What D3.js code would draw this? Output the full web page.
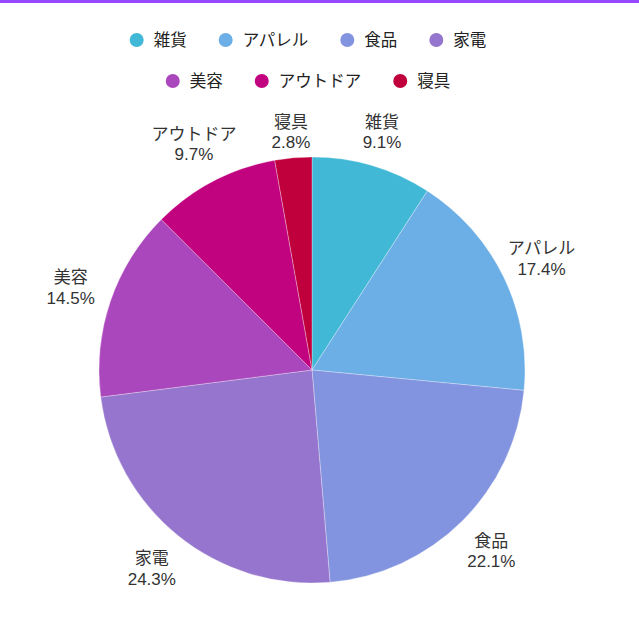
<!DOCTYPE html>
<html>
<head>
<meta charset="utf-8">
<script src="https://cdn.jsdelivr.net/npm/d3@7"></script>
<style>
  html, body { margin: 0; padding: 0; background: #fff; }
  body { font-family: "Noto Sans", "Noto Sans CJK JP", sans-serif; }
  .g-topbar { height: 3px; background: #9747ff; }
  .g-legend text { font-size: 16.5px; fill: #222; }
  .g-label { font-family: "Liberation Sans", "Noto Sans CJK JP", sans-serif; font-size: 17px; fill: #333; }
</style>
</head>
<body>
<div class="g-topbar"></div>
<div id="chart"></div>
<script>
let categories = ["雑貨", "アパレル", "食品", "家電", "美容", "アウトドア", "寝具"];
let values = [9.1, 17.4, 22.1, 24.3, 14.5, 9.7, 2.8];
let colors = ["#41b8d5", "#6caee6", "#8294e0", "#9575cd", "#ab47bc", "#c2037f", "#c0003c"];
let legendRows = [[0, 1, 2, 3], [4, 5, 6]];

let width = 639, height = 637;
let cx = 312, cy = 367, r = 213;
let labelR = 255, lineH = 20.5, minLabelY = 129;

let svg = d3.select("#chart").append("svg")
    .attr("width", width)
    .attr("height", height);

// legend
let color = d3.scaleOrdinal().domain(categories).range(colors);
let legend = svg.append("g").attr("class", "g-legend");

legendRows.forEach(function(row, ri){
    let rowg = legend.append("g");
    let x = 0;
    row.forEach(function(idx){
        let item = rowg.append("g").attr("transform", "translate(" + x + ",0)");
        item.append("circle")
            .attr("cx", 7)
            .attr("cy", 0)
            .attr("r", 7)
            .attr("fill", color(categories[idx]));
        let t = item.append("text")
            .attr("x", 24)
            .attr("dy", "0.35em")
            .text(categories[idx]);
        x += 24 + t.node().getComputedTextLength() + 32;
    });
    let rowW = x - 32;
    rowg.attr("transform", "translate(" + (308 - rowW / 2) + "," + (37 + ri * 41) + ")");
});

// pie
let pie = d3.pie().sort(null).value(d => d.value);
let arcs = pie(categories.map((c, i) => ({name: c, value: values[i]})));
let arc = d3.arc().innerRadius(0).outerRadius(r);

let g = svg.append("g").attr("transform", "translate(" + cx + "," + cy + ")");

g.selectAll("path.g-slice")
    .data(arcs)
    .enter().append("path")
    .attr("class", "g-slice")
    .attr("d", arc)
    .attr("fill", d => color(d.data.name))
    .attr("stroke", "#fff")
    .attr("stroke-opacity", 0.5)
    .attr("stroke-width", 0.6);

// labels on the slice's mid angle, pulled in so they stay below the legend
let lg = g.append("g");
arcs.forEach(function(d){
    let a = (d.startAngle + d.endAngle) / 2;
    let vx = Math.sin(a), vy = -Math.cos(a);
    let R = labelR;
    if (cy + R * vy < minLabelY) R = (cy - minLabelY) / -vy;
    let lab = lg.append("g")
        .attr("transform", "translate(" + (R * vx) + "," + (R * vy) + ")");
    lab.append("text").attr("class", "g-label")
        .attr("text-anchor", "middle")
        .attr("y", -lineH / 2)
        .attr("dy", "0.35em")
        .text(d.data.name);
    lab.append("text").attr("class", "g-label")
        .attr("text-anchor", "middle")
        .attr("y", lineH / 2)
        .attr("dy", "0.35em")
        .text(d.data.value.toFixed(1) + "%");
});
</script>
</body>
</html>
